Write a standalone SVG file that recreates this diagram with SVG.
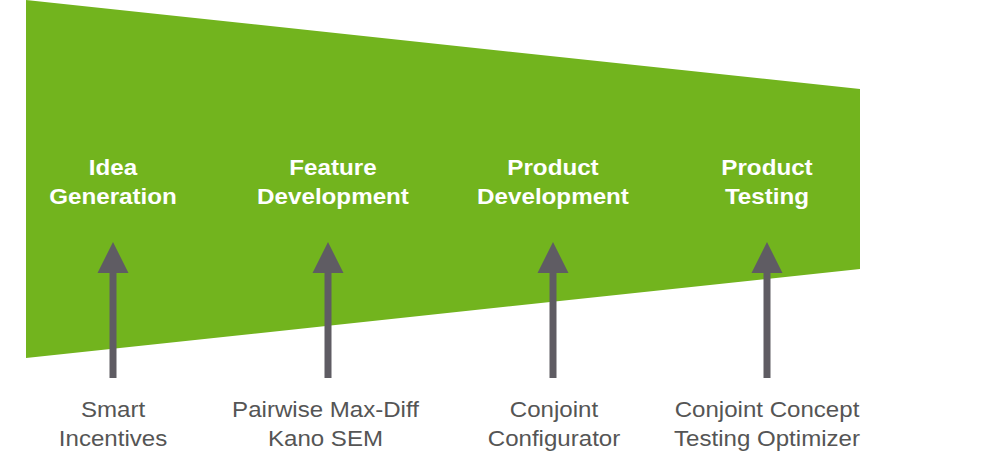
<svg xmlns="http://www.w3.org/2000/svg" width="1000" height="463" viewBox="0 0 1000 463">
<defs>
<style>
.stage{font-family:"Liberation Sans",Arial,sans-serif;font-weight:bold;font-size:22px;fill:#ffffff;text-anchor:middle}
.tool{font-family:"Liberation Sans",Arial,sans-serif;font-size:22.5px;fill:#555555;text-anchor:middle}
.shaft{fill:#5f5c63}
</style>
</defs>
<rect width="1000" height="463" fill="#ffffff"/>
<polygon id="funnel" points="26,0 860,89 860,269 26,358" fill="#72b41e"/>
<g id="connectors">
<g><rect class="shaft" x="109.5" y="270" width="7" height="108"/><polygon class="shaft" points="113,242 128.5,273 97.5,273"/></g>
<g><rect class="shaft" x="324.5" y="270" width="7" height="108"/><polygon class="shaft" points="328,242 343.5,273 312.5,273"/></g>
<g><rect class="shaft" x="549.5" y="270" width="7" height="108"/><polygon class="shaft" points="553,242 568.5,273 537.5,273"/></g>
<g><rect class="shaft" x="763.5" y="270" width="7" height="108"/><polygon class="shaft" points="767,242 782.5,273 751.5,273"/></g>
</g>
<g id="stage1"><text class="stage" transform="translate(113,175) scale(1.1,1)">Idea</text><text class="stage" transform="translate(113,204) scale(1.1,1)">Generation</text></g>
<g id="stage2"><text class="stage" transform="translate(333,175) scale(1.1,1)">Feature</text><text class="stage" transform="translate(333,204) scale(1.1,1)">Development</text></g>
<g id="stage3"><text class="stage" transform="translate(553,175) scale(1.1,1)">Product</text><text class="stage" transform="translate(553,204) scale(1.1,1)">Development</text></g>
<g id="stage4"><text class="stage" transform="translate(767,175) scale(1.1,1)">Product</text><text class="stage" transform="translate(767,204) scale(1.1,1)">Testing</text></g>
<g id="tool1"><text class="tool" transform="translate(113,417) scale(1.07,1)">Smart</text><text class="tool" transform="translate(113,446) scale(1.07,1)">Incentives</text></g>
<g id="tool2"><text class="tool" transform="translate(325.5,417) scale(1.07,1)">Pairwise Max-Diff</text><text class="tool" transform="translate(325.5,446) scale(1.07,1)">Kano SEM</text></g>
<g id="tool3"><text class="tool" transform="translate(554,417) scale(1.07,1)">Conjoint</text><text class="tool" transform="translate(554,446) scale(1.07,1)">Configurator</text></g>
<g id="tool4"><text class="tool" transform="translate(767,417) scale(1.07,1)">Conjoint Concept</text><text class="tool" transform="translate(767,446) scale(1.07,1)">Testing Optimizer</text></g>
</svg>
